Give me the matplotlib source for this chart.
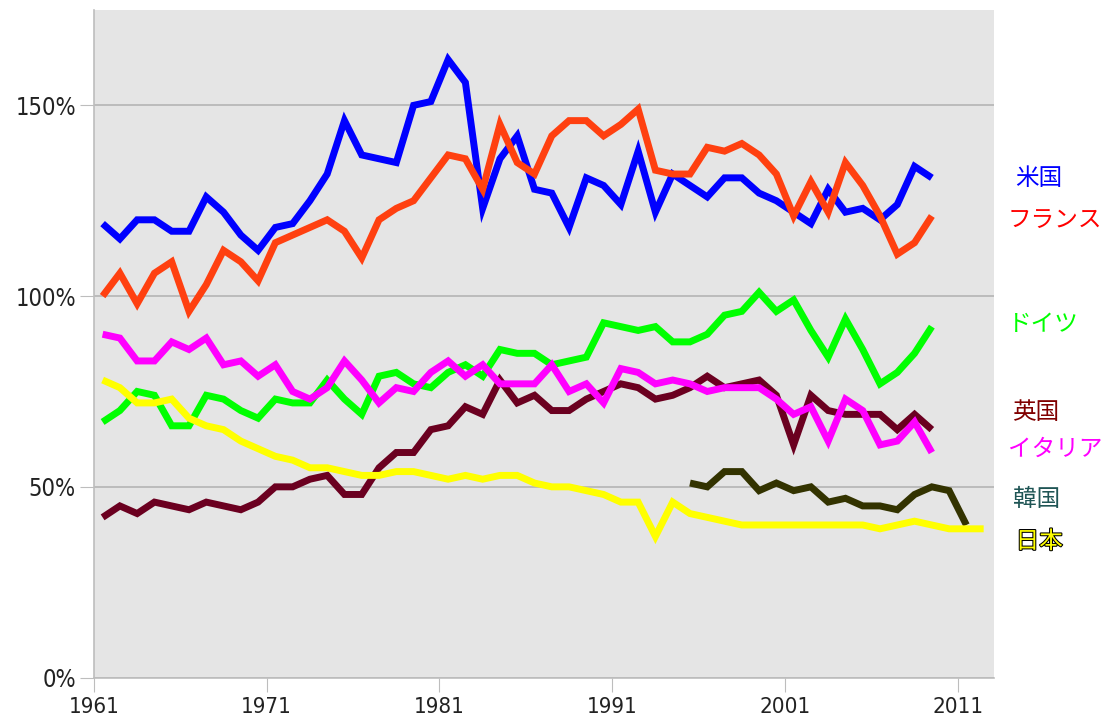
import numpy as np
import matplotlib
matplotlib.use("Agg")
import matplotlib.pyplot as plt
import matplotlib.patheffects as pe

plt.rcParams['font.family'] = ['DejaVu Sans']
plt.rcParams['font.stretch'] = 'condensed'

years = np.arange(1961, 2013)

usa = [119, 115, 120, 120, 117, 117, 126, 122, 116, 112,
       118, 119, 125, 132, 146, 137, 136, 135, 150, 151,
       162, 156, 123, 136, 142, 128, 127, 118, 131, 129,
       124, 138, 122, 132, 129, 126, 131, 131, 127, 125,
       122, 119, 128, 122, 123, 120, 124, 134, 131]
france = [100, 106, 98, 106, 109, 96, 103, 112, 109, 104,
          114, 116, 118, 120, 117, 110, 120, 123, 125, 131,
          137, 136, 128, 145, 135, 132, 142, 146, 146, 142,
          145, 149, 133, 132, 132, 139, 138, 140, 137, 132,
          121, 130, 122, 135, 129, 121, 111, 114, 121]
germany = [67, 70, 75, 74, 66, 66, 74, 73, 70, 68,
           73, 72, 72, 78, 73, 69, 79, 80, 77, 76,
           80, 82, 79, 86, 85, 85, 82, 83, 84, 93,
           92, 91, 92, 88, 88, 90, 95, 96, 101, 96,
           99, 91, 84, 94, 86, 77, 80, 85, 92]
uk = [42, 45, 43, 46, 45, 44, 46, 45, 44, 46,
      50, 50, 52, 53, 48, 48, 55, 59, 59, 65,
      66, 71, 69, 78, 72, 74, 70, 70, 73, 75,
      77, 76, 73, 74, 76, 79, 76, 77, 78, 74,
      61, 74, 70, 69, 69, 69, 65, 69, 65]
italy = [90, 89, 83, 83, 88, 86, 89, 82, 83, 79,
         82, 75, 73, 76, 83, 78, 72, 76, 75, 80,
         83, 79, 82, 77, 77, 77, 82, 75, 77, 72,
         81, 80, 77, 78, 77, 75, 76, 76, 76, 73,
         69, 71, 62, 73, 70, 61, 62, 67, 59]
korea = [np.nan] * 34 + [51, 50, 54, 54, 49, 51, 49, 50, 46, 47,
                         45, 45, 44, 48, 50, 49, 40]
japan = [78, 76, 72, 72, 73, 68, 66, 65, 62, 60,
         58, 57, 55, 55, 54, 53, 53, 54, 54, 53,
         52, 53, 52, 53, 53, 51, 50, 50, 49, 48,
         46, 46, 37, 46, 43, 42, 41, 40, 40, 40,
         40, 40, 40, 40, 40, 39, 40, 41, 40, 39,
         39, 39]

series = [usa, france, germany, uk, italy, korea, japan]
colors = ['#0000ff', '#ff4010', '#00ff00', '#6b0020', '#ff00ff', '#333300', '#ffff00']

labels = ['米国', 'フランス', 'ドイツ', '英国', 'イタリア', '韓国', '日本']
label_colors = ['#0000ff', '#ff0000', '#00ff00', '#800000', '#ff00ff', '#1f5555', '#ffff00']
label_y = [130.7, 119.7, 92.6, 69.5, 59.8, 46.7, 35.6]
label_dx = [0.024, 0.015, 0.015, 0.020, 0.015, 0.021, 0.024]

tick_years = [1961, 1971, 1981, 1991, 2001, 2011]

fig = plt.figure(figsize=(11.03, 7.24), dpi=100)
ax = fig.add_axes([0.0852, 0.0641, 0.8160, 0.9221])
ax.set_facecolor('#e5e5e5')

for vals, c in zip(series, colors):
    vals = np.array(vals, dtype=float)
    ax.plot(years[:len(vals)], vals, color=c, lw=5, solid_joinstyle='miter',
            solid_capstyle='butt')

ax.set_xlim(1960.5, 2012.6)
ax.set_ylim(0, 175)
ax.set_yticks([0, 50, 100, 150])
ax.set_yticklabels(['0%', '50%', '100%', '150%'])
ax.set_xticks([y - 0.5 for y in tick_years])
ax.set_xticklabels([str(y) for y in tick_years])
ax.grid(axis='y', color='#b4b4b4', lw=1.2)
ax.set_axisbelow(True)

for s in ['top', 'right']:
    ax.spines[s].set_visible(False)
for s in ['left', 'bottom']:
    ax.spines[s].set_color('#bdbdbd')
    ax.spines[s].set_linewidth(1.2)

ax.tick_params(axis='x', length=10, color='#bdbdbd', labelsize=16, pad=4, labelcolor='#222222')
ax.tick_params(axis='y', length=10, color='#bdbdbd', labelsize=17, pad=3, labelcolor='#222222')

cjk = ['Noto Sans CJK JP', 'DejaVu Sans']
for txt, c, yv, dx in zip(labels, label_colors, label_y, label_dx):
    t = ax.text(1 + dx, yv, txt, color=c, fontsize=17, family=cjk,
                va='center', ha='left',
                transform=ax.get_yaxis_transform(), clip_on=False)
    if txt == '日本':
        t.set_path_effects([pe.withStroke(linewidth=1.5, foreground='black')])

fig.savefig('out.png', dpi=100)
